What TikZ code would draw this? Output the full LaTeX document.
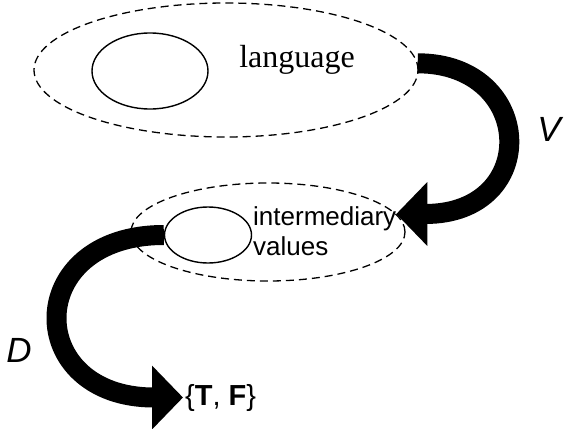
\documentclass[tikz,border=0pt]{standalone}
\usepackage{fontspec}
\setmainfont{Liberation Serif}
\setsansfont{Liberation Sans}
\usetikzlibrary{shapes.geometric,arrows.meta}

\begin{document}
\begin{tikzpicture}
	[x=1pt, y=-1pt,
	region/.style={ellipse,draw,dash pattern=on 8pt off 5pt,line width=1.3pt,inner sep=0pt},
	kernel/.style={ellipse,draw,line width=1.4pt,inner sep=0pt},
	mapping/.style={line width=20pt,-{Triangle[length=31pt,width=62pt]}},
	maplabel/.style={font=\sffamily\itshape\fontsize{35}{35}\selectfont}]
	\useasboundingbox (0,0) rectangle (564,428);
	\node (lang) [region,minimum width=384pt,minimum height=134pt] at (226,70) {};
	\node (langset) [kernel,minimum width=116pt,minimum height=76pt] at (150,71) {};
	\node (langlabel) [font=\fontsize{32}{38}\selectfont,anchor=base] at (297,67) {language};
	\node (inter) [region,minimum width=274pt,minimum height=98pt] at (268,232) {};
	\node (interset) [kernel,minimum width=87pt,minimum height=56pt] at (208,235) {};
	\node (interlabel) [font=\sffamily\fontsize{26}{30}\selectfont,align=left,anchor=west,inner sep=0pt] at (253,231) {intermediary\\values};
	\node (tf) [font=\sffamily\fontsize{29}{34}\selectfont,anchor=base west,inner sep=2pt] at (183,405) {\{\textbf{T}, \textbf{F}\}};
	\node (v) [maplabel] at (549,129) {V};
	\node (d) [maplabel] at (19,350) {D};
	\draw [mapping] (lang.2) .. controls +(118,0) and +(145,0) .. (inter.8);
	\draw [mapping] (interset.west) .. controls +(-142,0) and +(-160,0) .. (tf.west);
\end{tikzpicture}
\end{document}
